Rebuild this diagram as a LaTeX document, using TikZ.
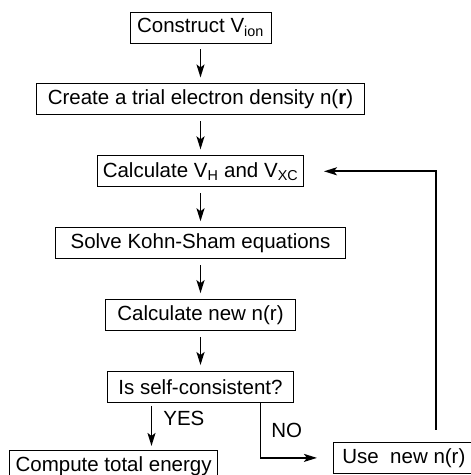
\documentclass[tikz,border=0pt]{standalone}
\usepackage{fontspec}
\setmainfont{Liberation Sans}
\usepackage{tikz}
\usetikzlibrary{positioning,arrows.meta}

\begin{document}
\begin{tikzpicture}[line width=1.8pt, >={Stealth[length=13pt,width=8pt,inset=3pt]}, node distance=40pt]
    \tikzstyle{box}=[rectangle, draw, line width=0.9pt, minimum height=31pt, inner xsep=0pt, inner ysep=2pt, font=\fontsize{20.5}{24}\selectfont]
    \tikzstyle{flow}=[->, shorten <=6pt, shorten >=6pt]
    \tikzstyle{answer}=[inner sep=0pt, font=\fontsize{20.5}{24}\selectfont]

    \useasboundingbox (0,0) rectangle (471pt,-475pt);

    % Main steps of the loop
    \node[box, minimum width=141pt] (ion) at (200.5pt,-27.5pt) {Construct V\textsubscript{ion}};
    \node[box, minimum width=328pt, below=of ion] (trial) {Create a trial electron density n(\textbf{r})};
    \node[box, minimum width=206pt, below=of trial] (pot) {Calculate V\textsubscript{H} and V\textsubscript{XC}};
    \node[box, minimum width=290pt, below=of pot] (ks) {Solve Kohn-Sham equations};
    \node[box, minimum width=190pt, below=of ks] (newn) {Calculate new n(r)};
    \node[box, minimum width=186pt, below=of newn] (scf) {Is self-consistent?};

    % Branches (yes / no)
    \node[box, minimum width=208pt, below left=47pt and -111pt of scf] (etot) {Compute total energy};
    \node[box, minimum width=141pt, below right=39pt and 39pt of scf] (mix) {Use\ \ new n(r)};

    \coordinate (yesfoot) at ([xshift=-49pt]scf.south);
    \coordinate (nofoot) at ([xshift=60pt]scf.south);
    \coordinate (back) at ([xshift=103pt]mix.north west);

    % Connections
    \foreach \a/\b in {ion/trial, trial/pot, pot/ks, ks/newn, newn/scf}
        \draw[flow] (\a) -- (\b);
    \draw[->, shorten <=3pt, shorten >=4pt] (yesfoot) -- (yesfoot |- etot.north)
        node[answer, pos=0.32, right=11pt] (yes) {YES};
    \draw[->, shorten >=16pt] (nofoot) |- (mix.west)
        node[answer, pos=0.25, right=10pt] (no) {NO};
    % Feedback to the potentials
    \draw[->, shorten <=12pt, shorten >=20pt] (back) |- (pot.east);
\end{tikzpicture}
\end{document}
